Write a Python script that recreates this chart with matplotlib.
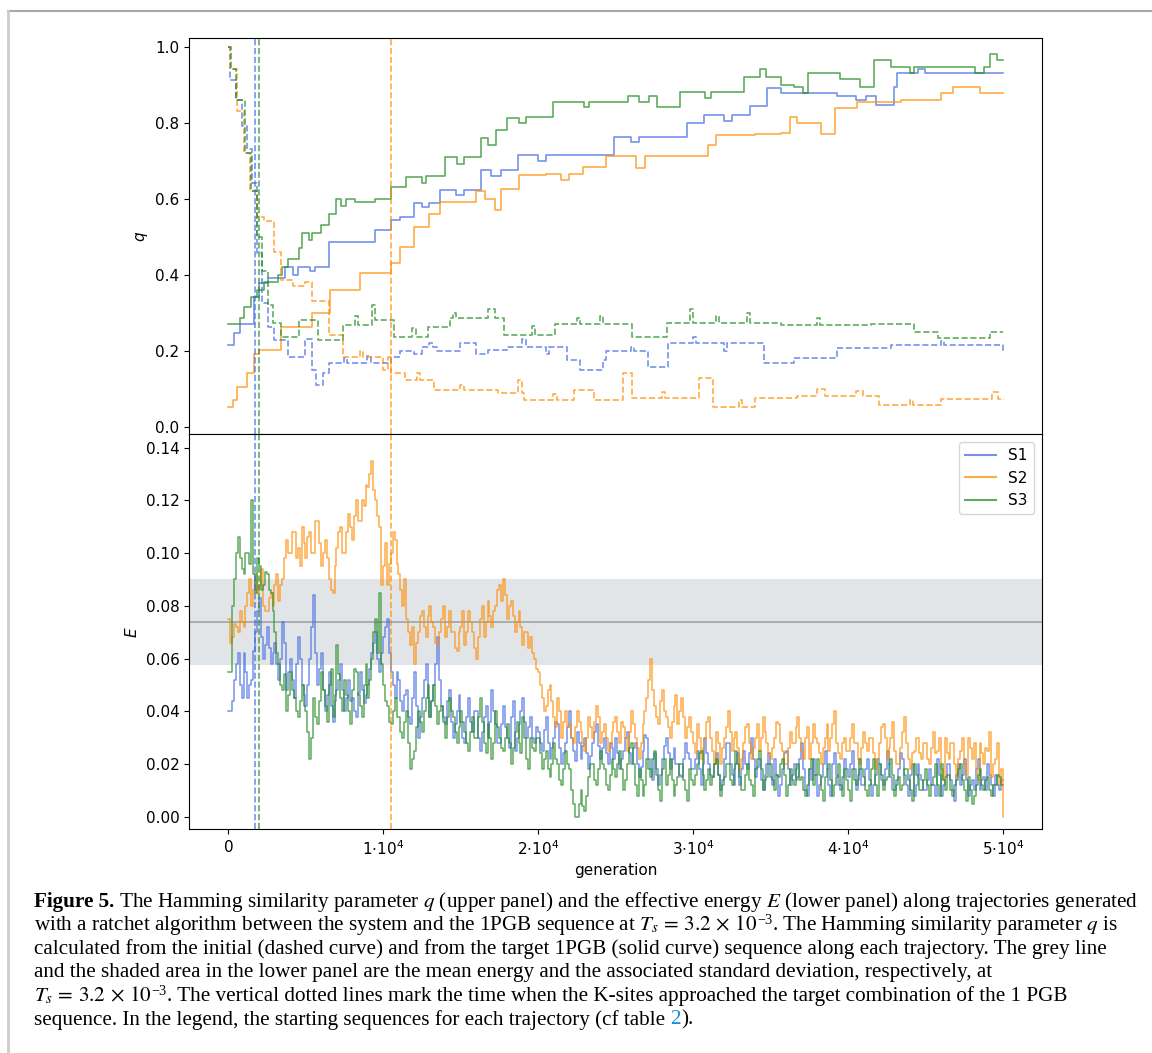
import numpy as np
import matplotlib.pyplot as plt
from matplotlib.lines import Line2D

C_S1 = "royalblue"
C_S2 = "darkorange"
C_S3 = "forestgreen"
ALPHA = 0.72

# generations at which the K-sites reach the target combination
t_K = {"S1": 1717, "S2": 10540, "S3": 2020}

# q with respect to the target 1PGB sequence (step change points)
qt_s1_gen = [0, 400, 800, 1650, 2000, 2600, 3700, 4200, 4500, 5300, 5600, 6500, 9500, 10500, 11100,
             12000, 12500, 13000, 13700, 14700, 15200, 16300, 17000, 17600, 18700, 20000, 20500,
             24900, 26000, 26500, 29600, 30700, 32000, 32500, 33700, 34800, 35700, 39300, 40500,
             41200, 41800, 43000, 43200, 44500, 45000, 50000]
qt_s1 = [0.215, 0.247, 0.27, 0.342, 0.377, 0.392, 0.421, 0.40, 0.421, 0.41, 0.421, 0.487, 0.518, 0.544,
         0.553, 0.588, 0.579, 0.588, 0.623, 0.61, 0.623, 0.675, 0.66, 0.675, 0.715, 0.70, 0.715, 0.763,
         0.75, 0.763, 0.798, 0.82, 0.805, 0.82, 0.845, 0.89, 0.877, 0.87, 0.86, 0.87, 0.847, 0.895,
         0.93, 0.94, 0.93, 0.93]

qt_s2_gen = [0, 300, 600, 1200, 1650, 2000, 3400, 5400, 6600, 8500, 10500, 11100, 12000, 13000, 13700,
             16000, 16600, 17200, 17600, 18800, 20500, 21500, 22000, 22900, 24400, 26300, 26900, 31000,
             31500, 34000, 35700, 36300, 36700, 38300, 39200, 40600, 43400, 46000, 46800, 48500, 50000]
qt_s2 = [0.053, 0.07, 0.105, 0.14, 0.19, 0.202, 0.263, 0.30, 0.36, 0.404, 0.43, 0.474, 0.526, 0.56,
         0.592, 0.62, 0.60, 0.57, 0.625, 0.662, 0.666, 0.65, 0.666, 0.684, 0.711, 0.68, 0.711, 0.74,
         0.768, 0.77, 0.772, 0.816, 0.80, 0.77, 0.838, 0.855, 0.86, 0.877, 0.895, 0.877, 0.877]

qt_s3_gen = [0, 800, 1000, 1500, 1900, 2300, 3200, 3500, 3900, 4600, 4800, 5200, 5400, 6000, 6500, 7000,
             7300, 7600, 8200, 9500, 10500, 11500, 12500, 12800, 14000, 14800, 15200, 16300, 16800,
             17300, 18000, 18800, 19200, 21000, 23000, 23300, 25800, 26500, 27200, 27700, 29200, 30800,
             31200, 33300, 34300, 34700, 35700, 36500, 37100, 37400, 39500, 40800, 41700, 42800, 44000,
             44300, 48200, 48800, 49200, 49600, 50000]
qt_s3 = [0.27, 0.285, 0.315, 0.34, 0.36, 0.38, 0.40, 0.42, 0.44, 0.47, 0.51, 0.49, 0.51, 0.53, 0.56,
         0.60, 0.58, 0.60, 0.59, 0.60, 0.63, 0.658, 0.64, 0.66, 0.71, 0.69, 0.71, 0.76, 0.74, 0.78, 0.812,
         0.80, 0.815, 0.855, 0.84, 0.855, 0.87, 0.855, 0.87, 0.84, 0.88, 0.865, 0.88, 0.92, 0.94, 0.92,
         0.90, 0.895, 0.877, 0.93, 0.914, 0.895, 0.965, 0.947, 0.93, 0.947, 0.93, 0.947, 0.982, 0.965,
         0.965]

# q with respect to the initial sequence
qi_s1_gen = [0, 150, 500, 900, 1200, 1550, 1900, 2200, 2600, 3000, 3900, 5000, 5400, 5700, 6100, 6500,
             7500, 7700, 9000, 9200, 10500, 11100, 12000, 12500, 13000, 13200, 13500, 15000, 16000,
             16800, 18000, 19000, 19200, 20500, 20700, 21900, 22700, 24200, 24400, 26000, 26200, 27100,
             28400, 30000, 30200, 32000, 32200, 34600, 36500, 39300, 42800, 46000, 46200, 49600, 50000]
qi_s1 = [1.0, 0.912, 0.86, 0.79, 0.73, 0.64, 0.456, 0.325, 0.263, 0.228, 0.184, 0.23, 0.15, 0.11, 0.14,
         0.167, 0.18, 0.167, 0.185, 0.167, 0.184, 0.20, 0.19, 0.21, 0.22, 0.21, 0.20, 0.22, 0.19,
         0.202, 0.21, 0.23, 0.21, 0.19, 0.21, 0.175, 0.149, 0.175, 0.198, 0.21, 0.198, 0.158,
         0.219, 0.235, 0.219, 0.20, 0.219, 0.167, 0.18, 0.206, 0.215, 0.225, 0.215, 0.215, 0.198]

qi_s2_gen = [0, 150, 550, 1000, 1450, 1900, 2300, 3000, 3400, 4200, 5000, 5400, 6500, 7400, 8500, 8700,
             10000, 10300, 10500, 11400, 12200, 12400, 13300, 15000, 15200, 17400, 18700, 19000, 19100,
             21000, 21200, 22300, 23600, 25500, 26100, 28000, 28200, 30400, 31300, 33000, 33200, 34000,
             36700, 38000, 38500, 40500, 41000, 42000, 44000, 44200, 46000, 49300, 49700, 50000]
qi_s2 = [1.0, 0.94, 0.83, 0.72, 0.62, 0.553, 0.54, 0.46, 0.386, 0.37, 0.38, 0.33, 0.24, 0.184, 0.2, 0.184,
         0.15, 0.184, 0.14, 0.123, 0.14, 0.123, 0.097, 0.11, 0.097, 0.088, 0.123, 0.088, 0.07,
         0.085, 0.07, 0.097, 0.07, 0.14, 0.075, 0.09, 0.075, 0.128, 0.053, 0.07, 0.053, 0.075,
         0.08, 0.10, 0.08, 0.095, 0.08, 0.057, 0.07, 0.057, 0.073, 0.09, 0.073, 0.07]

qi_s3_gen = [0, 200, 500, 1100, 1500, 1900, 2200, 2600, 2900, 3400, 4600, 5800, 7400, 8200, 8400, 9300,
             9500, 10700, 11900, 12100, 12900, 14300, 14500, 14700, 16800, 17200, 17800, 19600, 19800,
             21100, 22500, 22700, 24000, 24200, 26100, 28300, 29800, 30000, 31500, 31700, 33500, 33700,
             35700, 38000, 38200, 41500, 44300, 45800, 49200, 50000]
qi_s3 = [1.0, 0.94, 0.86, 0.72, 0.62, 0.5, 0.41, 0.32, 0.272, 0.237, 0.28, 0.228, 0.268, 0.29, 0.268, 0.32,
         0.28, 0.237, 0.26, 0.237, 0.263, 0.285, 0.30, 0.285, 0.31, 0.285, 0.24, 0.265, 0.24,
         0.27, 0.285, 0.27, 0.29, 0.27, 0.237, 0.272, 0.31, 0.272, 0.29, 0.272, 0.30, 0.272,
         0.268, 0.285, 0.268, 0.27, 0.25, 0.233, 0.25, 0.25]

# effective energy in units of 1e-3, one value every 125 generations
E_STEP = 125
E_s1_milli = [
    40, 40, 44, 52, 58, 62, 50, 45, 62, 55, 45, 50, 52, 63, 70, 78, 83, 68, 60, 65, 72, 64, 58, 62, 66, 58, 52, 60, 74, 66, 48, 55, 60, 52, 45, 58, 68, 60, 50, 46,
    42, 50, 60, 72, 84, 62, 50, 56, 62, 48, 40, 46, 55, 42, 36, 44, 48, 52, 58, 48, 40, 45, 52, 44, 45, 40, 38, 47, 55, 48, 43, 46, 50, 56, 62, 66, 70, 60, 55, 62,
    68, 72, 75, 62, 55, 50, 45, 55, 52, 44, 40, 46, 48, 38, 35, 45, 55, 42, 30, 38, 45, 52, 58, 45, 38, 44, 50, 58, 68, 52, 42, 38, 35, 44, 48, 36, 30, 35, 40, 46,
    36, 30, 28, 38, 45, 36, 32, 40, 40, 30, 25, 32, 38, 42, 30, 36, 48, 40, 35, 28, 28, 35, 42, 34, 30, 26, 38, 44, 25, 30, 35, 40, 45, 36, 30, 34, 38, 30, 28, 34,
    32, 28, 25, 33, 38, 28, 22, 26, 30, 36, 35, 26, 20, 24, 28, 34, 40, 30, 25, 21, 32, 28, 22, 27, 30, 24, 18, 23, 28, 32, 35, 27, 22, 26, 30, 24, 20, 28, 26, 22,
    30, 24, 18, 22, 25, 30, 32, 24, 20, 26, 28, 20, 15, 19, 25, 31, 30, 22, 18, 14, 24, 18, 12, 16, 22, 27, 30, 24, 18, 22, 26, 20, 20, 16, 15, 22, 28, 24, 22, 18,
    18, 22, 25, 18, 12, 20, 30, 24, 20, 16, 15, 20, 24, 16, 10, 14, 22, 28, 28, 20, 16, 12, 20, 24, 12, 18, 25, 20, 18, 24, 30, 22, 15, 19, 22, 14, 10, 16, 20, 24,
    15, 12, 22, 16, 8, 12, 18, 24, 25, 18, 12, 16, 20, 14, 15, 22, 28, 18, 10, 8, 18, 14, 22, 16, 8, 12, 15, 20, 25, 18, 12, 8, 20, 24, 16, 12, 10, 15, 22, 18,
    15, 20, 25, 18, 10, 14, 18, 12, 12, 18, 22, 14, 8, 12, 16, 22, 20, 14, 12, 18, 25, 20, 15, 10, 10, 14, 18, 24, 22, 16, 12, 8, 16, 20, 8, 12, 20, 16, 14, 10,
    10, 14, 18, 12, 12, 8, 22, 16, 8, 12, 15, 20, 20, 14, 10, 6, 16, 20, 12, 16, 22, 14, 8, 12, 14, 10, 18, 22, 10, 14, 15, 10, 20, 16, 12, 8, 16, 12, 10, 14,
    14]
E_s2_milli = [
    75, 66, 68, 73, 72, 70, 78, 74, 72, 80, 85, 90, 80, 86, 92, 85, 88, 94, 80, 78, 78, 83, 85, 80, 88, 92, 82, 88, 90, 98, 105, 100, 100, 108, 108, 98, 102, 95, 110, 104,
    98, 106, 108, 100, 100, 112, 112, 104, 95, 100, 105, 98, 90, 86, 85, 95, 102, 108, 110, 100, 100, 108, 115, 110, 105, 114, 120, 112, 112, 120, 118, 126, 125, 130, 135, 124, 120, 114, 110, 88,
    95, 104, 88, 96, 100, 108, 105, 96, 92, 86, 80, 90, 75, 70, 65, 72, 58, 66, 70, 76, 78, 72, 68, 76, 80, 74, 72, 66, 65, 70, 75, 80, 68, 72, 78, 70, 70, 64, 63, 70,
    72, 78, 65, 70, 78, 74, 70, 64, 60, 68, 75, 80, 68, 74, 82, 76, 72, 78, 80, 86, 88, 82, 90, 84, 75, 80, 82, 76, 70, 74, 78, 72, 65, 70, 70, 64, 68, 62, 60, 56,
    55, 50, 45, 40, 42, 48, 50, 44, 38, 34, 45, 40, 30, 36, 40, 34, 35, 30, 28, 34, 40, 36, 32, 28, 25, 30, 38, 34, 30, 36, 42, 38, 28, 32, 35, 30, 25, 28, 32, 36,
    38, 32, 28, 36, 34, 30, 25, 32, 40, 35, 30, 26, 22, 28, 35, 40, 45, 52, 60, 48, 42, 38, 35, 44, 48, 40, 38, 34, 30, 36, 42, 46, 35, 40, 45, 38, 30, 34, 38, 32,
    28, 24, 35, 30, 22, 26, 30, 36, 38, 30, 25, 20, 32, 28, 20, 26, 30, 34, 40, 32, 25, 30, 32, 26, 18, 22, 28, 34, 35, 28, 22, 26, 30, 35, 25, 30, 38, 32, 28, 24,
    22, 26, 30, 36, 35, 28, 25, 20, 20, 26, 32, 28, 28, 34, 38, 30, 25, 22, 30, 34, 22, 28, 35, 30, 28, 24, 20, 26, 30, 35, 25, 30, 35, 40, 28, 24, 22, 28, 30, 25,
    25, 30, 35, 28, 28, 22, 20, 26, 32, 28, 25, 30, 30, 24, 18, 22, 28, 34, 35, 30, 22, 26, 30, 36, 25, 20, 20, 26, 32, 38, 28, 22, 18, 24, 25, 30, 30, 24, 22, 28,
    28, 22, 20, 26, 32, 24, 25, 30, 18, 14, 30, 24, 22, 28, 28, 20, 15, 22, 25, 30, 20, 16, 30, 26, 22, 28, 18, 14, 28, 24, 20, 26, 25, 32, 15, 20, 22, 28, 12, 18,
    0]
E_s3_milli = [
    55, 55, 80, 90, 100, 106, 98, 94, 92, 100, 100, 96, 120, 92, 85, 98, 95, 86, 88, 93, 92, 86, 85, 78, 70, 62, 58, 50, 48, 54, 40, 46, 55, 48, 45, 40, 38, 44, 50, 42,
    40, 32, 22, 30, 45, 38, 35, 44, 55, 48, 42, 36, 50, 56, 38, 46, 65, 54, 45, 40, 52, 46, 40, 35, 48, 56, 55, 46, 42, 38, 50, 58, 45, 52, 60, 70, 75, 62, 85, 58,
    50, 44, 42, 36, 35, 40, 45, 38, 38, 32, 30, 36, 40, 28, 18, 22, 25, 34, 40, 36, 32, 40, 45, 50, 38, 44, 50, 42, 35, 40, 42, 36, 30, 38, 45, 40, 38, 32, 28, 34,
    40, 36, 32, 28, 25, 32, 38, 30, 30, 38, 45, 36, 28, 24, 35, 30, 22, 28, 40, 34, 30, 26, 25, 30, 35, 28, 20, 26, 32, 36, 28, 24, 38, 30, 22, 18, 30, 26, 25, 30,
    30, 24, 18, 22, 25, 18, 15, 20, 28, 22, 20, 14, 12, 18, 25, 20, 18, 10, 5, 0, 0, 5, 10, 4, 2, 8, 15, 20, 20, 14, 12, 18, 25, 20, 18, 12, 10, 16, 22, 18,
    15, 20, 25, 18, 10, 14, 20, 26, 28, 20, 12, 8, 18, 14, 8, 12, 22, 18, 15, 22, 25, 16, 10, 6, 18, 22, 12, 16, 22, 14, 8, 12, 15, 20, 20, 14, 10, 6, 18, 14,
    12, 16, 20, 24, 25, 16, 10, 14, 18, 12, 15, 20, 22, 16, 8, 12, 15, 20, 20, 14, 12, 18, 25, 20, 15, 10, 10, 16, 20, 14, 12, 8, 18, 22, 25, 18, 10, 14, 15, 20,
    20, 14, 10, 16, 15, 20, 22, 16, 8, 12, 18, 14, 12, 18, 20, 14, 15, 10, 8, 12, 18, 22, 12, 16, 22, 16, 10, 6, 15, 18, 20, 14, 8, 12, 15, 20, 12, 8, 18, 14,
    10, 6, 18, 14, 12, 16, 22, 18, 15, 10, 8, 12, 18, 22, 12, 8, 20, 16, 10, 14, 15, 20, 22, 16, 8, 12, 15, 10, 12, 18, 18, 14, 10, 6, 20, 16, 15, 10, 10, 14,
    18, 12, 8, 12, 15, 20, 12, 8, 20, 14, 10, 16, 16, 10, 8, 12, 14, 18, 20, 14, 10, 6, 15, 10, 5, 8, 12, 16, 18, 12, 10, 14, 15, 10, 8, 12, 12, 16, 15, 12,
    12]

E_mean = 0.0739
E_std = 0.0163

xticks = [0, 10000, 20000, 30000, 40000, 50000]
xticklabels = ["$0$", r"$1{\cdot}10^{4}$", r"$2{\cdot}10^{4}$", r"$3{\cdot}10^{4}$",
               r"$4{\cdot}10^{4}$", r"$5{\cdot}10^{4}$"]

FS = 11

fig = plt.figure(figsize=(11.52, 10.53), dpi=100)
ax1 = fig.add_axes([0.1643, 0.5876, 0.7398, 0.3760])
ax2 = fig.add_axes([0.1643, 0.2124, 0.7398, 0.3752], sharex=ax1)

lw = 1.2
# upper panel: solid = from target, dashed = from initial
for g, v, c in [(qt_s1_gen, qt_s1, C_S1), (qt_s2_gen, qt_s2, C_S2), (qt_s3_gen, qt_s3, C_S3)]:
    ax1.plot(g, v, drawstyle="steps-post", color=c, alpha=ALPHA, lw=lw)
for g, v, c in [(qi_s1_gen, qi_s1, C_S1), (qi_s2_gen, qi_s2, C_S2), (qi_s3_gen, qi_s3, C_S3)]:
    ax1.plot(g, v, drawstyle="steps-post", color=c, alpha=ALPHA, lw=lw, ls="--")

# lower panel: energy with mean +- std
ax2.axhspan(E_mean - E_std, E_mean + E_std, color="slategray", alpha=0.2, lw=0, zorder=0)
ax2.axhline(E_mean, color="#9ea3a8", lw=1.2, zorder=1)
for E, c, lab in [(E_s1_milli, C_S1, "S1"), (E_s2_milli, C_S2, "S2"), (E_s3_milli, C_S3, "S3")]:
    gen = np.arange(len(E)) * E_STEP
    ax2.plot(gen, np.array(E) / 1000, drawstyle="steps-post", color=c, alpha=ALPHA, lw=1.1, label=lab)

for ax in (ax1, ax2):
    for key, c in [("S1", C_S1), ("S3", C_S3), ("S2", C_S2)]:
        ax.axvline(t_K[key], color=c, alpha=ALPHA, lw=lw, ls="--")
    ax.tick_params(labelsize=FS)

ax1.set_ylim(-0.02, 1.022)
ax1.set_yticks([0.0, 0.2, 0.4, 0.6, 0.8, 1.0])
ax1.set_ylabel("$q$", fontsize=FS)
ax1.tick_params(labelbottom=False, bottom=False)

ax2.set_xlim(-2500, 52500)
ax2.set_ylim(-0.0048, 0.1451)
ax2.set_yticks([0.0, 0.02, 0.04, 0.06, 0.08, 0.10, 0.12, 0.14])
ax2.set_xticks(xticks)
ax2.set_xticklabels(xticklabels)
ax2.set_xlabel("generation", fontsize=FS)
ax2.set_ylabel("$E$", fontsize=FS)
leg = ax2.legend(loc="upper right", fontsize=FS)
for h in leg.get_lines():
    h.set_linewidth(1.5)

# page frame
fig.add_artist(Line2D([8 / 1152, 1], [1 - 11 / 1053] * 2, color="#a8a8a8", lw=1.5))
fig.add_artist(Line2D([8 / 1152] * 2, [0, 1 - 11 / 1053], color="#cccccc", lw=2))

# caption, written piece by piece along each baseline
cap = dict(family="Liberation Serif", fontsize=15.2, math_fontfamily="stix")
Ts = r"$T_s\,=\,3.2\,\times\,10$"
sup = dict(fontsize=10.2, dy=6)
lines = [
    [("Figure 5.", dict(weight="bold")),
     (" The Hamming similarity parameter $q$ (upper panel) and the effective energy $E$ (lower panel) along trajectories generated", {})],
    [("with a ratchet algorithm between the system and the 1PGB sequence at " + Ts, {}), ("\u22123", sup),
     (". The Hamming similarity parameter $q$ is", {})],
    [("calculated from the initial (dashed curve) and from the target 1PGB (solid curve) sequence along each trajectory. The grey line", {})],
    [("and the shaded area in the lower panel are the mean energy and the associated standard deviation, respectively, at", {})],
    [(Ts, {}), ("\u22123", sup),
     (". The vertical dotted lines mark the time when the K-sites approached the target combination of the 1 PGB", {})],
    [("sequence. In the legend, the starting sequences for each trajectory (cf table ", {}), ("2", dict(color="#1a8fd6")), (").", {})],
]
renderer = fig.canvas.get_renderer()
W, H = fig.bbox.width, fig.bbox.height
for i, pieces in enumerate(lines):
    x = 34
    y = 906.5 + i * 23.6
    for s, kw in pieces:
        kw = dict(cap, **kw)
        dy = kw.pop("dy", 0)
        t = fig.text(x / W, 1 - (y - dy) / H, s, ha="left", va="baseline", **kw)
        x += t.get_window_extent(renderer).width

fig.savefig("out.png", dpi=100)
